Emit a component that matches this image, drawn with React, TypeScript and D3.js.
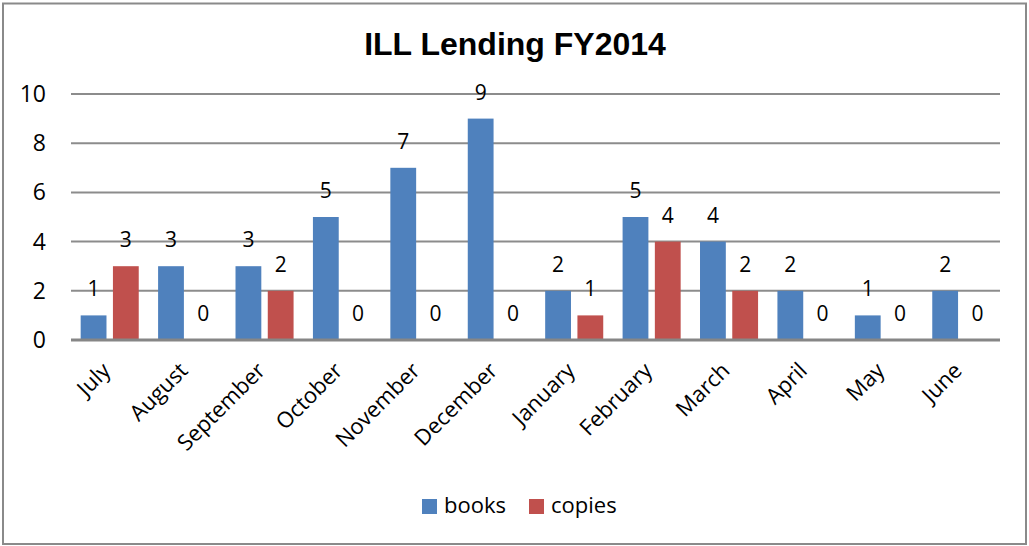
import { useEffect, useRef } from 'react'
import * as d3 from 'd3'

const months = ['July', 'August', 'September', 'October', 'November', 'December', 'January', 'February', 'March', 'April', 'May', 'June']
const books = [1, 3, 3, 5, 7, 9, 2, 5, 4, 2, 1, 2]
const copies = [3, 0, 2, 0, 0, 0, 1, 4, 2, 0, 0, 0]
const seriesNames = ['books', 'copies']
const yTicks = [0, 2, 4, 6, 8, 10]

const colors: Record<string, string> = { books: '#4F81BD', copies: '#C0504D' }
const bodyFont = '"Open Sans", Lato, sans-serif'

export default function App() {
  const svgRef = useRef<SVGSVGElement>(null)

  useEffect(() => {
    if (!svgRef.current) return
    const width = 1029
    const height = 546
    const svg = d3.select(svgRef.current)
    svg.selectAll('*').remove()
    svg.attr('width', width).attr('height', height)

    // 바깥 테두리
    svg.append('rect')
      .attr('x', 3).attr('y', 3.5)
      .attr('width', 1023).attr('height', 540.5)
      .attr('fill', '#fff')
      .attr('stroke', '#8a8a8a')
      .attr('stroke-width', 2)

    const left = 71
    const right = 1000
    const top = 94
    const bottom = 340

    const x0 = d3.scaleBand<string>()
      .domain(months)
      .range([left, right])
      .paddingInner(0.25)
      .paddingOuter(0.125)

    const x1 = d3.scaleBand<string>()
      .domain(seriesNames)
      .range([0, x0.bandwidth()])
      .paddingInner(0.2)

    const y = d3.scaleLinear().domain([0, 10]).range([bottom, top])

    // 그리드
    svg.append('g')
      .selectAll('line')
      .data(yTicks.filter(t => t > 0))
      .enter()
      .append('line')
      .attr('x1', left).attr('x2', right)
      .attr('y1', d => y(d)).attr('y2', d => y(d))
      .attr('stroke', '#8c8c8c')
      .attr('stroke-width', 2)

    // Y축 레이블
    svg.append('g')
      .selectAll('text')
      .data(yTicks)
      .enter()
      .append('text')
      .attr('x', 46)
      .attr('y', d => y(d) + 8)
      .attr('text-anchor', 'end')
      .style('font-family', bodyFont)
      .style('font-size', '23px')
      .style('fill', '#000')
      .text(d => d)

    const rows = months.map((m, i) => ({ month: m, values: [
      { key: 'books', value: books[i] },
      { key: 'copies', value: copies[i] },
    ] }))

    const groups = svg.append('g')
      .selectAll('g')
      .data(rows)
      .enter()
      .append('g')
      .attr('transform', d => `translate(${x0(d.month)},0)`)

    groups.selectAll('rect')
      .data(d => d.values)
      .enter()
      .append('rect')
      .attr('x', d => x1(d.key) || 0)
      .attr('y', d => y(d.value))
      .attr('width', x1.bandwidth())
      .attr('height', d => y(0) - y(d.value))
      .attr('fill', d => colors[d.key])

    groups.selectAll('text')
      .data(d => d.values)
      .enter()
      .append('text')
      .attr('x', d => (x1(d.key) || 0) + x1.bandwidth() / 2)
      .attr('y', d => y(d.value) - 19)
      .attr('text-anchor', 'middle')
      .style('font-family', bodyFont)
      .style('font-size', '21px')
      .style('fill', '#000')
      .text(d => d.value)

    // X축 기준선
    svg.append('line')
      .attr('x1', left).attr('x2', right)
      .attr('y1', bottom).attr('y2', bottom)
      .attr('stroke', '#868686')
      .attr('stroke-width', 3)

    // X축 레이블
    svg.append('g')
      .selectAll('text')
      .data(months)
      .enter()
      .append('text')
      .attr('transform', d => `translate(${(x0(d) || 0) + x0.bandwidth() / 2 + 2},${bottom + 32}) rotate(-45)`)
      .attr('text-anchor', 'end')
      .style('font-family', bodyFont)
      .style('font-size', '22px')
      .style('fill', '#000')
      .text(d => d)

    // 제목
    svg.append('text')
      .attr('x', 515)
      .attr('y', 55)
      .attr('text-anchor', 'middle')
      .style('font-family', '"Liberation Sans", Arial, sans-serif')
      .style('font-weight', 'bold')
      .style('font-size', '32px')
      .style('fill', '#000')
      .text('ILL Lending FY2014')

    // 범례
    const legendX = [422, 529]
    const legend = svg.append('g')
      .selectAll('g')
      .data(seriesNames)
      .enter()
      .append('g')
      .attr('transform', (_, i) => `translate(${legendX[i]},499)`)
    legend.append('rect')
      .attr('width', 15).attr('height', 15)
      .attr('fill', d => colors[d])
    legend.append('text')
      .attr('x', 22)
      .attr('y', 14)
      .style('font-family', bodyFont)
      .style('font-size', '22px')
      .style('fill', '#000')
      .text(d => d)
  }, [])

  return (
    <div style={{ position: 'absolute', left: 0, top: 0 }}>
      <svg ref={svgRef} style={{ display: 'block' }}></svg>
    </div>
  )
}
